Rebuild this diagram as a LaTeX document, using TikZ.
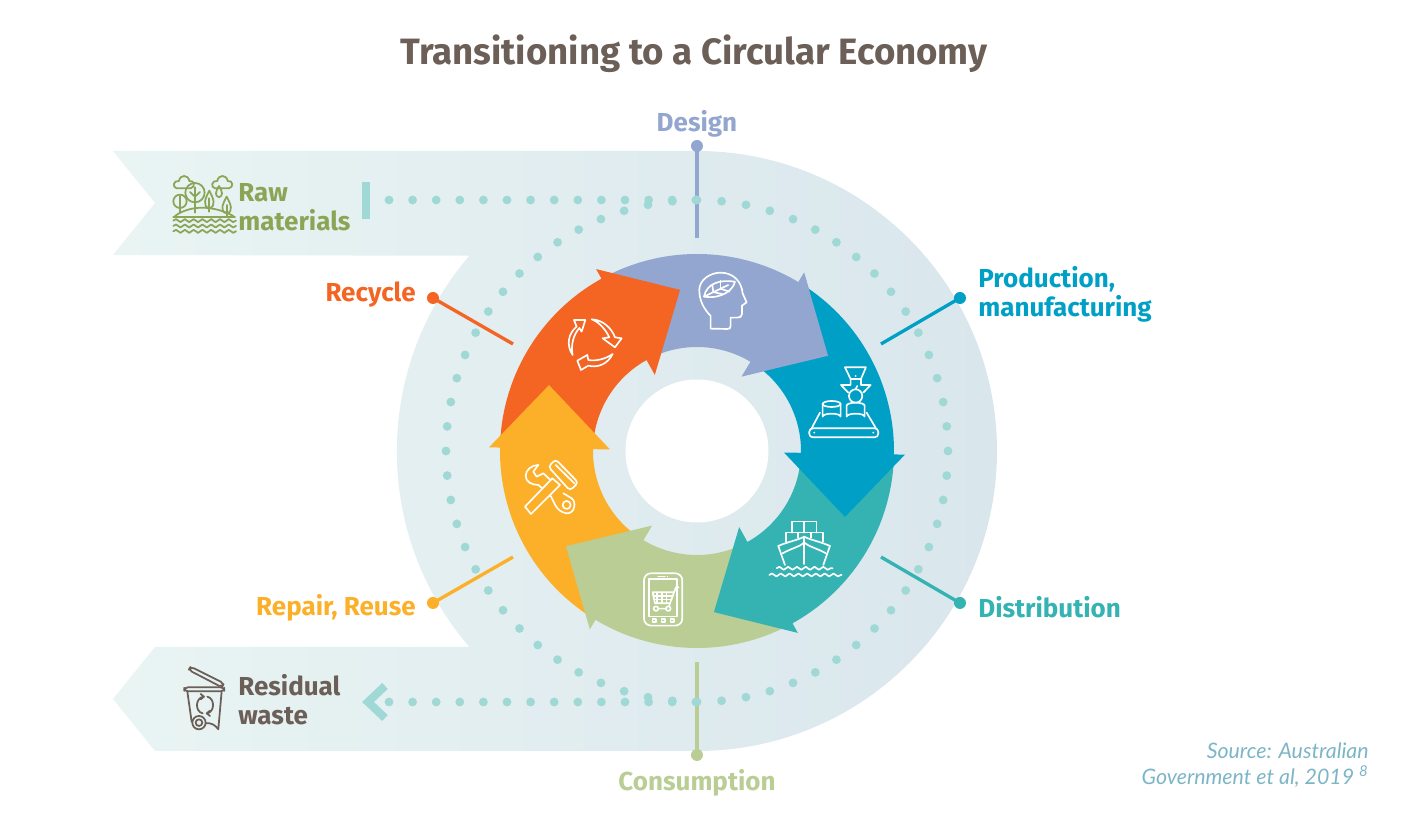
\documentclass[tikz,border=0pt]{standalone}
\usepackage{fontspec}
\setmainfont{Fira Sans}
\newfontfamily\srcfont{Lato}
\usetikzlibrary{decorations.pathmorphing}

\definecolor{designcol}{HTML}{92A6CF}
\definecolor{makecol}{HTML}{00A0C6}
\definecolor{shipcol}{HTML}{35B3B2}
\definecolor{shopcol}{HTML}{BACD94}
\definecolor{repaircol}{HTML}{FCB02A}
\definecolor{recyclecol}{HTML}{F46523}
\definecolor{titlecol}{HTML}{6B5F57}
\definecolor{rawcol}{HTML}{8BA557}
\definecolor{dotcol}{HTML}{A0D8D6}
\definecolor{srccol}{HTML}{7CB5C6}
\definecolor{bandleft}{HTML}{E9F4F3}
\definecolor{bandmid}{HTML}{DDEAED}
\definecolor{bandright}{HTML}{D9E6EC}

\tikzset{
  ringlabel/.style={font=\fontsize{14.8}{16.4}\selectfont\bfseries, align=left, inner sep=0},
  stem/.style={line width=1.9pt},
  icon/.style={line width=0.95pt, line join=round, line cap=round},
  sideicon/.style={line width=1pt, line join=round, line cap=round},
  wave/.style={decorate, decoration={snake, amplitude=0.85pt, segment length=5pt}},
}

\begin{document}
\begin{tikzpicture}[x=0.02cm, y=0.02cm]
  \useasboundingbox (-697,-380) rectangle (731,451);

  % background band
  \shade[left color=bandleft, middle color=bandmid, right color=bandright]
    (-584,300) -- (0,300) arc [start angle=90, end angle=-90, radius=300]
    -- (-542,-300) -- (-584,-248) -- (-542,-196) -- (-227.6,-196)
    arc [start angle=220.7, end angle=139.3, radius=300]
    -- (-584,196) -- (-542,248) -- cycle;
  \fill[white] (0,0) circle [radius=71.5];

  % stems
  \coordinate (designdot) at (0,305);
  \coordinate (designend) at (0,213);
  \coordinate (makedot) at (263,153);
  \coordinate (makeend) at (184,107);
  \coordinate (shipdot) at (263,-152);
  \coordinate (shipend) at (184,-106);
  \coordinate (shopdot) at (0,-304);
  \coordinate (shopend) at (0,-211);
  \coordinate (repairdot) at (-264,-152);
  \coordinate (repairend) at (-184,-106);
  \coordinate (recycledot) at (-264,153);
  \coordinate (recycleend) at (-184,107);
  \foreach \st/\col in {design/designcol, make/makecol, ship/shipcol, shop/shopcol, repair/repaircol, recycle/recyclecol} {
    \draw[stem, \col] (\st dot) -- (\st end);
    \fill[\col] (\st dot) circle [radius=6];
  }

  % dotted track
  \foreach \k in {0,...,13} {
    \fill[dotcol] ({-308+\k*23.6},251) circle [radius=4.4];
    \fill[dotcol] ({-308+\k*23.6},-251) circle [radius=4.4];
  }
  \foreach \k in {0,...,63} {
    \fill[dotcol] ({90+\k*5.625}:251) circle [radius=4.4];
  }
  \fill[dotcol] (-335,232) rectangle (-327,269);
  \draw[dotcol, line width=4.6pt] (-312,-235) -- (-329,-251) -- (-312,-267);

  % ring arrows
  \foreach \tip/\col in {36/designcol, 96/recyclecol, 156/repaircol, -144/shopcol, -84/shipcol, -24/makecol} {
    \fill[\col] ({\tip+82}:197) arc [start angle=\tip+82, end angle=\tip+23, radius=197]
      -- ({\tip+23}:208) -- (\tip:162) -- ({\tip+23}:87) -- ({\tip+23}:104)
      arc [start angle=\tip+23, end angle=\tip+82, radius=104] -- cycle;
  }
  \fill[designcol] (59:208) -- (36:162) -- (59:87) -- cycle;

  % ring icons
  \begin{scope}[shift={(-217,211)}, xscale=0.3333, yscale=-0.3333, icon, white]
    % head
    \draw (692,266) -- (692,228) .. controls (670,205) and (658,180) .. (658,150)
      .. controls (658,120) and (690,98) .. (722,98) .. controls (760,98) and (785,125) .. (788,160)
      -- (800,187) -- (786,197) -- (786,222) .. controls (786,230) and (780,233) .. (772,233)
      -- (752,233) -- (752,258) .. controls (752,265) and (748,267) .. (742,267) -- cycle;
    \draw (672,170) .. controls (680,130) and (720,118) .. (765,125) .. controls (760,150) and (725,178) .. (672,170) -- (745,135);
    \draw (700,156) -- (697,135);
    \draw (722,146) -- (722,122);
    \draw (700,156) -- (728,163);
    \draw (722,146) -- (748,155);

    % recycle
    \draw (278,345) .. controls (258,315) and (265,280) .. (290,260) -- (282,240) -- (316,240) -- (305,275)
      -- (298,264) .. controls (280,285) and (272,315) .. (278,345) -- cycle;
    \draw (335,238) .. controls (370,240) and (395,265) .. (405,292) -- (425,295) -- (405,322) -- (368,295)
      -- (388,292) .. controls (375,265) and (355,245) .. (335,238) -- cycle;
    \draw (398,342) .. controls (380,355) and (350,365) .. (325,360) -- (322,345) -- (292,362) -- (303,390)
      -- (325,377) .. controls (355,385) and (385,370) .. (398,342) -- cycle;

    % factory
    \draw[rounded corners=2pt] (988,565) rectangle (1195,592);
    \draw (1020,518) -- (995,565);
    \draw (1160,518) -- (1188,565);
    \fill (1003,578) circle [radius=3];
    \fill (1180,578) circle [radius=3];
    \draw (1055,492) ellipse [x radius=27, y radius=9];
    \draw (1028,492) -- (1028,530) arc [start angle=180, end angle=360, x radius=27, y radius=9] -- (1082,492);
    \draw (1100,497) -- (1100,530) arc [start angle=180, end angle=360, x radius=27, y radius=9] -- (1154,497);
    \draw (1100,497) arc [start angle=180, end angle=360, x radius=27, y radius=9];
    \draw (1127,468) circle [radius=20];
    \draw (1127,448) -- (1132,438);
    \draw (1095,382) -- (1158,382) -- (1143,417) -- (1112,417) -- cycle;
    \draw (1112,417) -- (1112,435) -- (1083,435) -- (1105,458);
    \draw (1143,417) -- (1143,435) -- (1172,435) -- (1150,458);
    \fill (1127,408) circle [radius=3];

    % ship
    \draw (937,878) -- (937,845) -- (1010,845) -- (1010,878);
    \draw (973,845) -- (973,878);
    \draw (918,905) -- (918,878) -- (1030,878) -- (1030,905);
    \draw (955,878) -- (955,893);
    \draw (993,878) -- (993,893);
    \draw (895,918) .. controls (925,905) and (955,900) .. (973,890) .. controls (991,900) and (1021,905) .. (1050,918);
    \draw (895,918) -- (915,975);
    \draw (1050,918) -- (1030,975);
    \draw (973,890) -- (973,972);
    \draw (908,940) .. controls (935,925) and (960,920) .. (973,908) .. controls (986,920) and (1011,925) .. (1038,940);
    \draw[wave] (890,985) -- (1058,985);
    \draw[wave] (868,1005) -- (1085,1005);

    % tablet
    \draw[rounded corners=4pt] (492,1000) rectangle (607,1157);
    \draw (508,1018) rectangle (592,1130);
    \draw (535,1010) -- (555,1010);
    \fill (563,1010) circle [radius=2];
    \foreach \sx in {523,550,577} {
      \draw (\sx-5,1137) rectangle (\sx+5,1147);
    }
    \draw (596,1042) -- (588,1042) -- (570,1090) -- (525,1090) -- (518,1057) -- (582,1057);
    \draw (520,1068) -- (579,1068);
    \draw (522,1079) -- (575,1079);
    \foreach \sx in {532,546,560} {
      \draw (\sx,1057) -- (\sx,1090);
    }
    \draw (570,1090) -- (565,1106) -- (528,1106);
    \draw[fill=shopcol] (528,1106) circle [radius=7];
    \draw[fill=shopcol] (565,1106) circle [radius=7];

    % tools
    \draw (175,675) -- (160,695) -- (170,710) -- (190,700) -- (220,728);
    \draw (175,675) .. controls (155,675) and (137,690) .. (137,708) .. controls (137,725) and (155,735) .. (175,735) -- (210,765)
      .. controls (222,780) and (225,815) .. (260,820) .. controls (285,822) and (290,785) .. (275,775) -- (250,760);
    \draw (260,795) circle [radius=12];
    \draw[fill=repaircol] (135,800) -- (153,822) -- (240,735) -- (217,715) -- cycle;
    \draw[rounded corners=2pt, fill=repaircol] (205,680) -- (227,658) -- (295,728) -- (270,752) -- cycle;
    \draw (227,675) -- (283,730);
  \end{scope}

  % trees
  \begin{scope}[shift={(-597,321)}, xscale=0.3333, yscale=-0.3333, sideicon, rawcol]
    \draw (220,260) -- (405,260);
    \draw (225,258) .. controls (270,225) and (340,225) .. (400,258);
    \foreach \sx in {0,115} {
      \draw (\sx+230,175) .. controls (\sx+216,172) and (\sx+220,150) .. (\sx+237,153)
        .. controls (\sx+240,133) and (\sx+265,133) .. (\sx+268,153)
        .. controls (\sx+284,150) and (\sx+287,172) .. (\sx+272,175) -- cycle;
    }
    \draw (240,214) circle [radius=20];
    \draw (240,198) -- (240,248);
    \draw (285,188) circle [radius=29];
    \draw (285,172) -- (285,248);
    \draw (285,200) -- (270,186);
    \draw (285,200) -- (300,186);
    \draw (328,182) .. controls (340,205) and (350,228) .. (328,235) .. controls (306,228) and (316,205) .. (328,182);
    \draw (328,205) -- (328,245);
    \draw (380,200) .. controls (392,222) and (402,245) .. (380,250) .. controls (358,245) and (368,222) .. (380,200);
    \draw (380,225) -- (380,258);
    \draw (357,168) .. controls (368,185) and (370,198) .. (357,202) .. controls (344,198) and (346,185) .. (357,168);
    \draw[wave] (220,272) -- (408,272);
    \draw[wave] (220,288) -- (408,288);
    \draw[wave] (220,304) -- (408,304);
  \end{scope}

  % bin
  \begin{scope}[shift={(-597,-179)}, xscale=0.3333, yscale=-0.3333, sideicon, titlecol]
    \draw[rounded corners=2pt] (272,110) -- (372,160) -- (366,172) -- (266,120) -- cycle;
    \draw[rounded corners=2pt] (253,172) rectangle (373,184);
    \draw (262,184) -- (275,275);
    \draw (365,184) -- (355,298) .. controls (345,285) and (335,278) .. (318,280);
    \draw (297,278) circle [radius=20];
    \draw (297,278) circle [radius=10];
    \draw (308,250) .. controls (285,245) and (285,205) .. (310,200);
    \draw (302,192) -- (312,200) -- (302,208);
    \draw (322,200) .. controls (345,205) and (345,245) .. (322,250);
    \draw (330,242) -- (320,250) -- (330,258);
  \end{scope}

  % labels
  \node[font=\fontsize{20.85}{24}\selectfont\bfseries, text=titlecol, inner sep=0] (title) at (-3,397) {Transitioning to a Circular Economy};
  \node[ringlabel, text=designcol] (design) at (0,327.5) {Design};
  \node[ringlabel, text=makecol, anchor=west] (make) at (281,157) {Production,\\manufacturing};
  \node[ringlabel, text=shipcol, anchor=west] (ship) at (281,-156) {Distribution};
  \node[ringlabel, text=shopcol] (shop) at (0,-332) {Consumption};
  \node[ringlabel, text=repaircol, anchor=east] (repair) at (-281,-157) {Repair, Reuse};
  \node[ringlabel, text=recyclecol, anchor=east] (recycle) at (-281,156.5) {Recycle};
  \node[ringlabel, text=rawcol, anchor=west] (raw) at (-459,244) {Raw\\materials};
  \node[ringlabel, text=titlecol, anchor=west] (waste) at (-459,-249) {Residual\\waste};
  \node[font=\fontsize{12.15}{14.8}\selectfont\srcfont\itshape, text=srccol, align=right, anchor=east, inner sep=0] (source) at (672,-314) {Source: Australian\\Government et al, 2019 \textsuperscript{8}};
\end{tikzpicture}
\end{document}
